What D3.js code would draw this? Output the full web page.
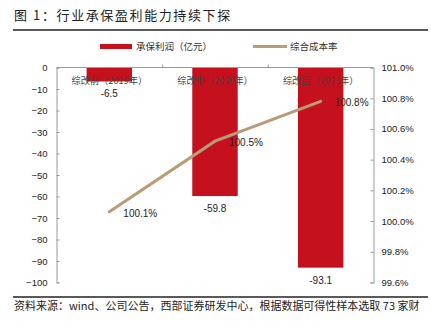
<!DOCTYPE html>
<html><head><meta charset="utf-8">
<script src="https://cdn.jsdelivr.net/npm/d3@7/dist/d3.min.js"></script>
<style>
body{margin:0;background:#fff;}
svg{display:block;}
</style></head>
<body>
<svg id="c" width="431" height="331"></svg>
<script>
const categories = ["综改前（2019年）", "综改中（2020年）", "综改后（2021年）"];
const profit = [-6.5, -59.8, -93.1];
const costRatio = [100.06, 100.52, 100.78];
const costLabels = ["100.1%", "100.5%", "100.8%"];
const leftTicks = [0, -10, -20, -30, -40, -50, -60, -70, -80, -90, -100];
const rightTicks = [101.0, 100.8, 100.6, 100.4, 100.2, 100.0, 99.8, 99.6];

const svg = d3.select("#c");
const L = 56.5, R = 373.5, T = 67.5, B = 282.5;
const numFont = "'Liberation Sans', Arial, sans-serif";
const cjkFont = "'Noto Sans CJK SC', sans-serif";
const red = "#C5101E", tan = "#BA9B78", axisCol = "#9a9a9a";

// title
svg.append("text").attr("x", 14).attr("y", 20).attr("font-family", cjkFont)
  .attr("font-size", 13).attr("letter-spacing", 1.6).attr("fill", "#222").text("图 1：行业承保盈利能力持续下探");
svg.append("line").attr("x1", 13).attr("x2", 428).attr("y1", 30).attr("y2", 30).attr("stroke", "#222").attr("stroke-width", 1.3);

// legend
svg.append("rect").attr("x", 100).attr("y", 44).attr("width", 32).attr("height", 5).attr("fill", red);
svg.append("text").attr("x", 136).attr("y", 50).attr("font-family", cjkFont).attr("font-size", 9.5).attr("fill", "#333").text("承保利润（亿元）");
svg.append("line").attr("x1", 253).attr("x2", 287).attr("y1", 46.5).attr("y2", 46.5).attr("stroke", tan).attr("stroke-width", 3);
svg.append("text").attr("x", 290).attr("y", 50).attr("font-family", cjkFont).attr("font-size", 9.5).attr("fill", "#333").text("综合成本率");

const x = d3.scaleBand().domain(categories).range([L, R]).paddingInner(0.57).paddingOuter(0.285);
const yL = d3.scaleLinear().domain([0, -100]).range([T, B]);
const yR = d3.scaleLinear().domain([101.0, 99.6]).range([T, B]);

// bars
svg.selectAll("rect.bar").data(profit).join("rect").attr("class", "bar")
  .attr("x", (d, i) => x(categories[i])).attr("width", x.bandwidth())
  .attr("y", yL(0)).attr("height", d => yL(d) - yL(0)).attr("fill", red);

// axes
const gl = svg.append("g").attr("transform", `translate(${L},0)`)
  .call(d3.axisLeft(yL).tickValues(leftTicks).tickSize(-3).tickPadding(9).tickFormat(d3.format("d")));
const gr = svg.append("g").attr("transform", `translate(${R},0)`)
  .call(d3.axisRight(yR).tickValues(rightTicks).tickSize(-3).tickPadding(8).tickFormat(d => d.toFixed(1) + "%"));
const band = d3.scaleLinear().domain([0, 3]).range([L, R]);
const gt = svg.append("g").attr("transform", `translate(0,${T})`)
  .call(d3.axisTop(band).tickValues([1, 2]).tickSize(3).tickFormat(""));
[gl, gr, gt].forEach(g => {
  g.selectAll("path,line").attr("stroke", axisCol);
  g.selectAll("text").attr("font-family", numFont).attr("font-size", 9.5).attr("fill", "#222");
});
gt.select("path").attr("d", `M${L},0H${R}`);

// category labels
svg.selectAll("text.cat").data(categories).join("text").attr("class", "cat")
  .attr("x", d => x(d) + x.bandwidth() / 2).attr("y", 84).attr("text-anchor", "middle")
  .attr("font-family", cjkFont).attr("font-size", 9.2).attr("fill", "#444").text(d => d);

// bar labels
svg.selectAll("text.bl").data(profit).join("text").attr("class", "bl")
  .attr("x", (d, i) => x(categories[i]) + x.bandwidth() / 2).attr("y", d => yL(d) + 16)
  .attr("text-anchor", "middle").attr("font-family", numFont).attr("font-size", 10).attr("fill", "#222")
  .text(d => d.toFixed(1));

// line
const cx = i => x(categories[i]) + x.bandwidth() / 2;
svg.append("path").datum(costRatio).attr("fill", "none").attr("stroke", tan).attr("stroke-width", 3)
  .attr("stroke-linecap", "round")
  .attr("d", d3.line().x((d, i) => cx(i)).y(d => yR(d)));
svg.selectAll("text.ll").data(costRatio).join("text").attr("class", "ll")
  .attr("x", (d, i) => cx(i) + 14).attr("y", d => yR(d) + 5)
  .attr("font-family", numFont).attr("font-size", 10).attr("fill", "#222")
  .text((d, i) => costLabels[i]);

// footer
svg.append("line").attr("x1", 13).attr("x2", 428).attr("y1", 297).attr("y2", 297).attr("stroke", "#222").attr("stroke-width", 1.3);
svg.append("text").attr("x", 14).attr("y", 310).attr("font-family", cjkFont).attr("font-size", 11).attr("fill", "#222")
  .text("资料来源：wind、公司公告，西部证券研发中心，根据数据可得性样本选取 73 家财");
</script>
</body></html>
